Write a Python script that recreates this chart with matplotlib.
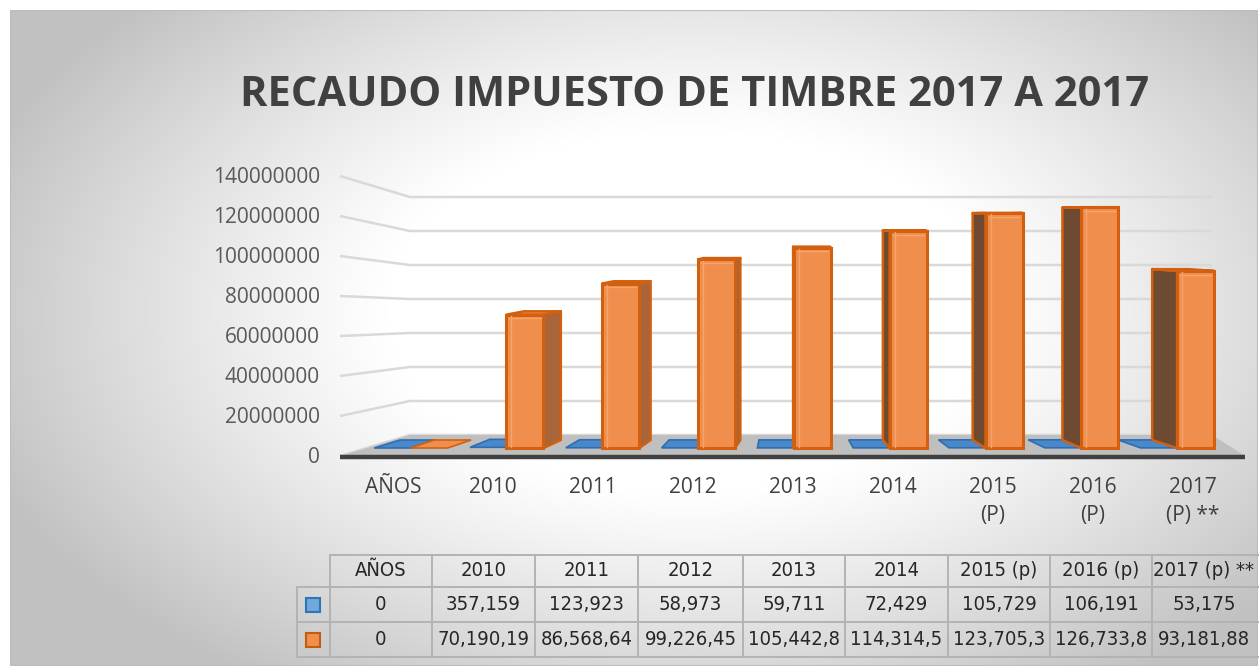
import numpy as np
import matplotlib.pyplot as plt
from matplotlib.patches import Polygon, Rectangle

# data
categorias = ['AÑOS', '2010', '2011', '2012', '2013', '2014', '2015\n(P)', '2016\n(P)', '2017\n(P) **']
serie_azul = [0, 357159, 123923, 58973, 59711, 72429, 105729, 106191, 53175]
serie_naranja = [0, 70190190, 86568640, 99226450, 105442800, 114314500, 123705300, 126733800, 93181880]
yticks = [0, 20000000, 40000000, 60000000, 80000000, 100000000, 120000000, 140000000]

tabla_encabezado = ['AÑOS', '2010', '2011', '2012', '2013', '2014', '2015 (p)', '2016 (p)', '2017 (p) **']
tabla_azul = ['0', '357,159', '123,923', '58,973', '59,711', '72,429', '105,729', '106,191', '53,175']
tabla_naranja = ['0', '70,190,19', '86,568,64', '99,226,45', '105,442,8', '114,314,5', '123,705,3', '126,733,8', '93,181,88']

W, H = 1259, 666
fig = plt.figure(figsize=(W / 100, H / 100), dpi=100)
fig.patch.set_facecolor('white')

def fr(x0, y0, x1, y1):
    # pixel box -> figure fraction [left, bottom, width, height]
    return [x0 / W, 1 - y1 / H, (x1 - x0) / W, (y1 - y0) / H]

# background with radial gradient
bg = fig.add_axes(fr(10, 10, 1258, 666))
yy, xx = np.mgrid[0:656, 0:1248]
r = np.sqrt(((xx - 680) / 720.0) ** 2 + ((yy - 300) / 430.0) ** 2)
g = 1 - 0.24 * np.clip((r - 0.42) / 0.62, 0, 1) ** 1.1
bg.imshow(np.dstack([g, g, g]), aspect='auto', extent=(0, 1, 0, 1))
bg.set_xlim(0, 1)
bg.set_ylim(0, 1)
bg.axis('off')
bg.add_patch(Rectangle((0, 0), 1, 1, fill=False, ec='#bdbdbd', lw=1.5, transform=bg.transAxes))

fig.text(695 / W, 1 - 96 / H, 'RECAUDO IMPUESTO DE TIMBRE 2017 A 2017', ha='center', va='center',
         fontsize=30, fontweight='bold', color='#404040', family=['Open Sans', 'DejaVu Sans'])

# main chart axes: x in category units (100 px each), y in millions on the front plane
ax = fig.add_axes(fr(330, 150, 1250, 470))
px_x = 100.0
px_y = 1.9
ax.set_xlim((330 - 393) / px_x, (1250 - 393) / px_x)
ax.set_ylim(-(470 - 448) / px_y, (448 - 150) / px_y)
ax.axis('off')

M = 1e6
def label_y(v):
    return (2 * v / M - 8) / px_y

def wall_y(v):
    return (13 + 1.7 * v / M) / px_y

x_front = (340 - 393) / px_x
x_wall = (410 - 393) / px_x
x_end = (1212 - 393) / px_x

for t in yticks:
    ax.plot([x_front, x_wall, x_end], [label_y(t), wall_y(t), wall_y(t)],
            color='#d9d9d9', lw=1.8, zorder=1, solid_capstyle='butt')
    ax.text((320 - 393) / px_x, label_y(t) - 0.8, str(t), ha='right', va='center', fontsize=15,
            color='#595959', clip_on=False, family=['Open Sans', 'DejaVu Sans'])

# floor
floor = Polygon([(x_front, label_y(0)), ((1245 - 393) / px_x, label_y(0)),
                 ((1212 - 393) / px_x, wall_y(0)), (x_wall, wall_y(0))],
                closed=True, fc='#bfbfbf', ec='none', zorder=2)
ax.add_patch(floor)
ax.plot([x_front, (1245 - 393) / px_x], [label_y(0) - 0.6, label_y(0) - 0.6],
        color='#404040', lw=3.2, zorder=3, solid_capstyle='butt')

depth_c = 8 / px_y
depth_k = 0.965

def barra(xc, valor, ancho, cara, borde, lado_der, lado_izq):
    v = valor / M
    x0, x1 = xc - ancho / 2, xc + ancho / 2
    dx = ((800 - (393 + 100 * xc)) * 0.063) / px_x
    vb = depth_c + v * depth_k
    if dx >= 0:
        side = [(x1, 0), (x1, v), (x1 + dx, vb), (x1 + dx, depth_c)]
        sc = lado_der
    else:
        side = [(x0, 0), (x0, v), (x0 + dx, vb), (x0 + dx, depth_c)]
        sc = lado_izq
    top = [(x0, v), (x1, v), (x1 + dx, vb), (x0 + dx, vb)]
    if v > 1:
        ax.add_patch(Polygon(side, closed=True, fc=sc, ec=borde, lw=1.8, zorder=4, joinstyle='round'))
        ax.add_patch(Polygon(top, closed=True, fc=cara, ec=borde, lw=1.8, zorder=4, joinstyle='round'))
        ax.bar(xc, v, width=ancho, bottom=0, color=cara, edgecolor=borde, lw=2.2, zorder=5)
        # inner bevel lines
        ax.plot([x0 + 0.05, x0 + 0.05], [0.5, v - 0.8], color='#f5a46c', lw=1, zorder=6)
        ax.plot([x0 + 0.03, x1 - 0.03], [v - 2, v - 2], color='#f5a46c', lw=1, zorder=6)
    else:
        ax.add_patch(Polygon(top, closed=True, fc=cara, ec=borde, lw=1.2, zorder=4))

for i in range(len(categorias)):
    # bars sit on a slightly narrower spacing than the labels (perspective)
    xb = 1.32 + 0.958 * (i - 1)
    barra(xb - 0.37, serie_azul[i], 0.36, '#4a89c9', '#2e6db3', '#3d6fa6', '#2d527c')
    barra(xb, serie_naranja[i], 0.37, '#f08e4e', '#d2600f', '#a9643a', '#6d4a31')
    ax.text(i, (448 - 477) / px_y, categorias[i], ha='center', va='top', fontsize=15,
            color='#404040', clip_on=False, linespacing=1.45, family=['Open Sans', 'DejaVu Sans'])

# data table
tab = fig.add_axes(fr(290, 550, 1259, 660))
tab.set_xlim(290, 1259)
tab.set_ylim(660, 550)
tab.axis('off')
col_edges = [297, 330, 432, 535, 638, 743, 845, 948, 1050, 1152, 1262]
row_edges = [555, 587, 622, 657]
lc = '#b3b3b3'
for y in row_edges:
    tab.plot([col_edges[1] if y == row_edges[0] else col_edges[0], col_edges[-1]], [y, y], color=lc, lw=1.4, clip_on=False)
for k, x in enumerate(col_edges[:-1]):
    top_y = row_edges[1] if k == 0 else row_edges[0]
    tab.plot([x, x], [top_y, row_edges[-1]], color=lc, lw=1.4)

tfont = ['Liberation Sans Narrow', 'DejaVu Sans']
for k in range(len(tabla_encabezado)):
    xm = (col_edges[k + 1] + col_edges[k + 2]) / 2
    if k == len(tabla_encabezado) - 1:
        xm = col_edges[k + 1] + 52
    for fila, txt in zip(range(3), [tabla_encabezado[k], tabla_azul[k], tabla_naranja[k]]):
        ym = (row_edges[fila] + row_edges[fila + 1]) / 2
        tab.text(xm, ym, txt, ha='center', va='center', fontsize=14.5, color='#262626', family=tfont,
                 fontstretch='condensed', clip_on=False)

xm = (col_edges[0] + col_edges[1]) / 2
for fila, (fc, ec) in zip([1, 2], [('#6fa8dc', '#2e75b6'), ('#f08e4e', '#c55a11')]):
    ym = (row_edges[fila] + row_edges[fila + 1]) / 2
    tab.add_patch(Rectangle((xm - 7, ym - 7), 14, 14, fc=fc, ec=ec, lw=1.5))

fig.savefig('out.png', dpi=100)
